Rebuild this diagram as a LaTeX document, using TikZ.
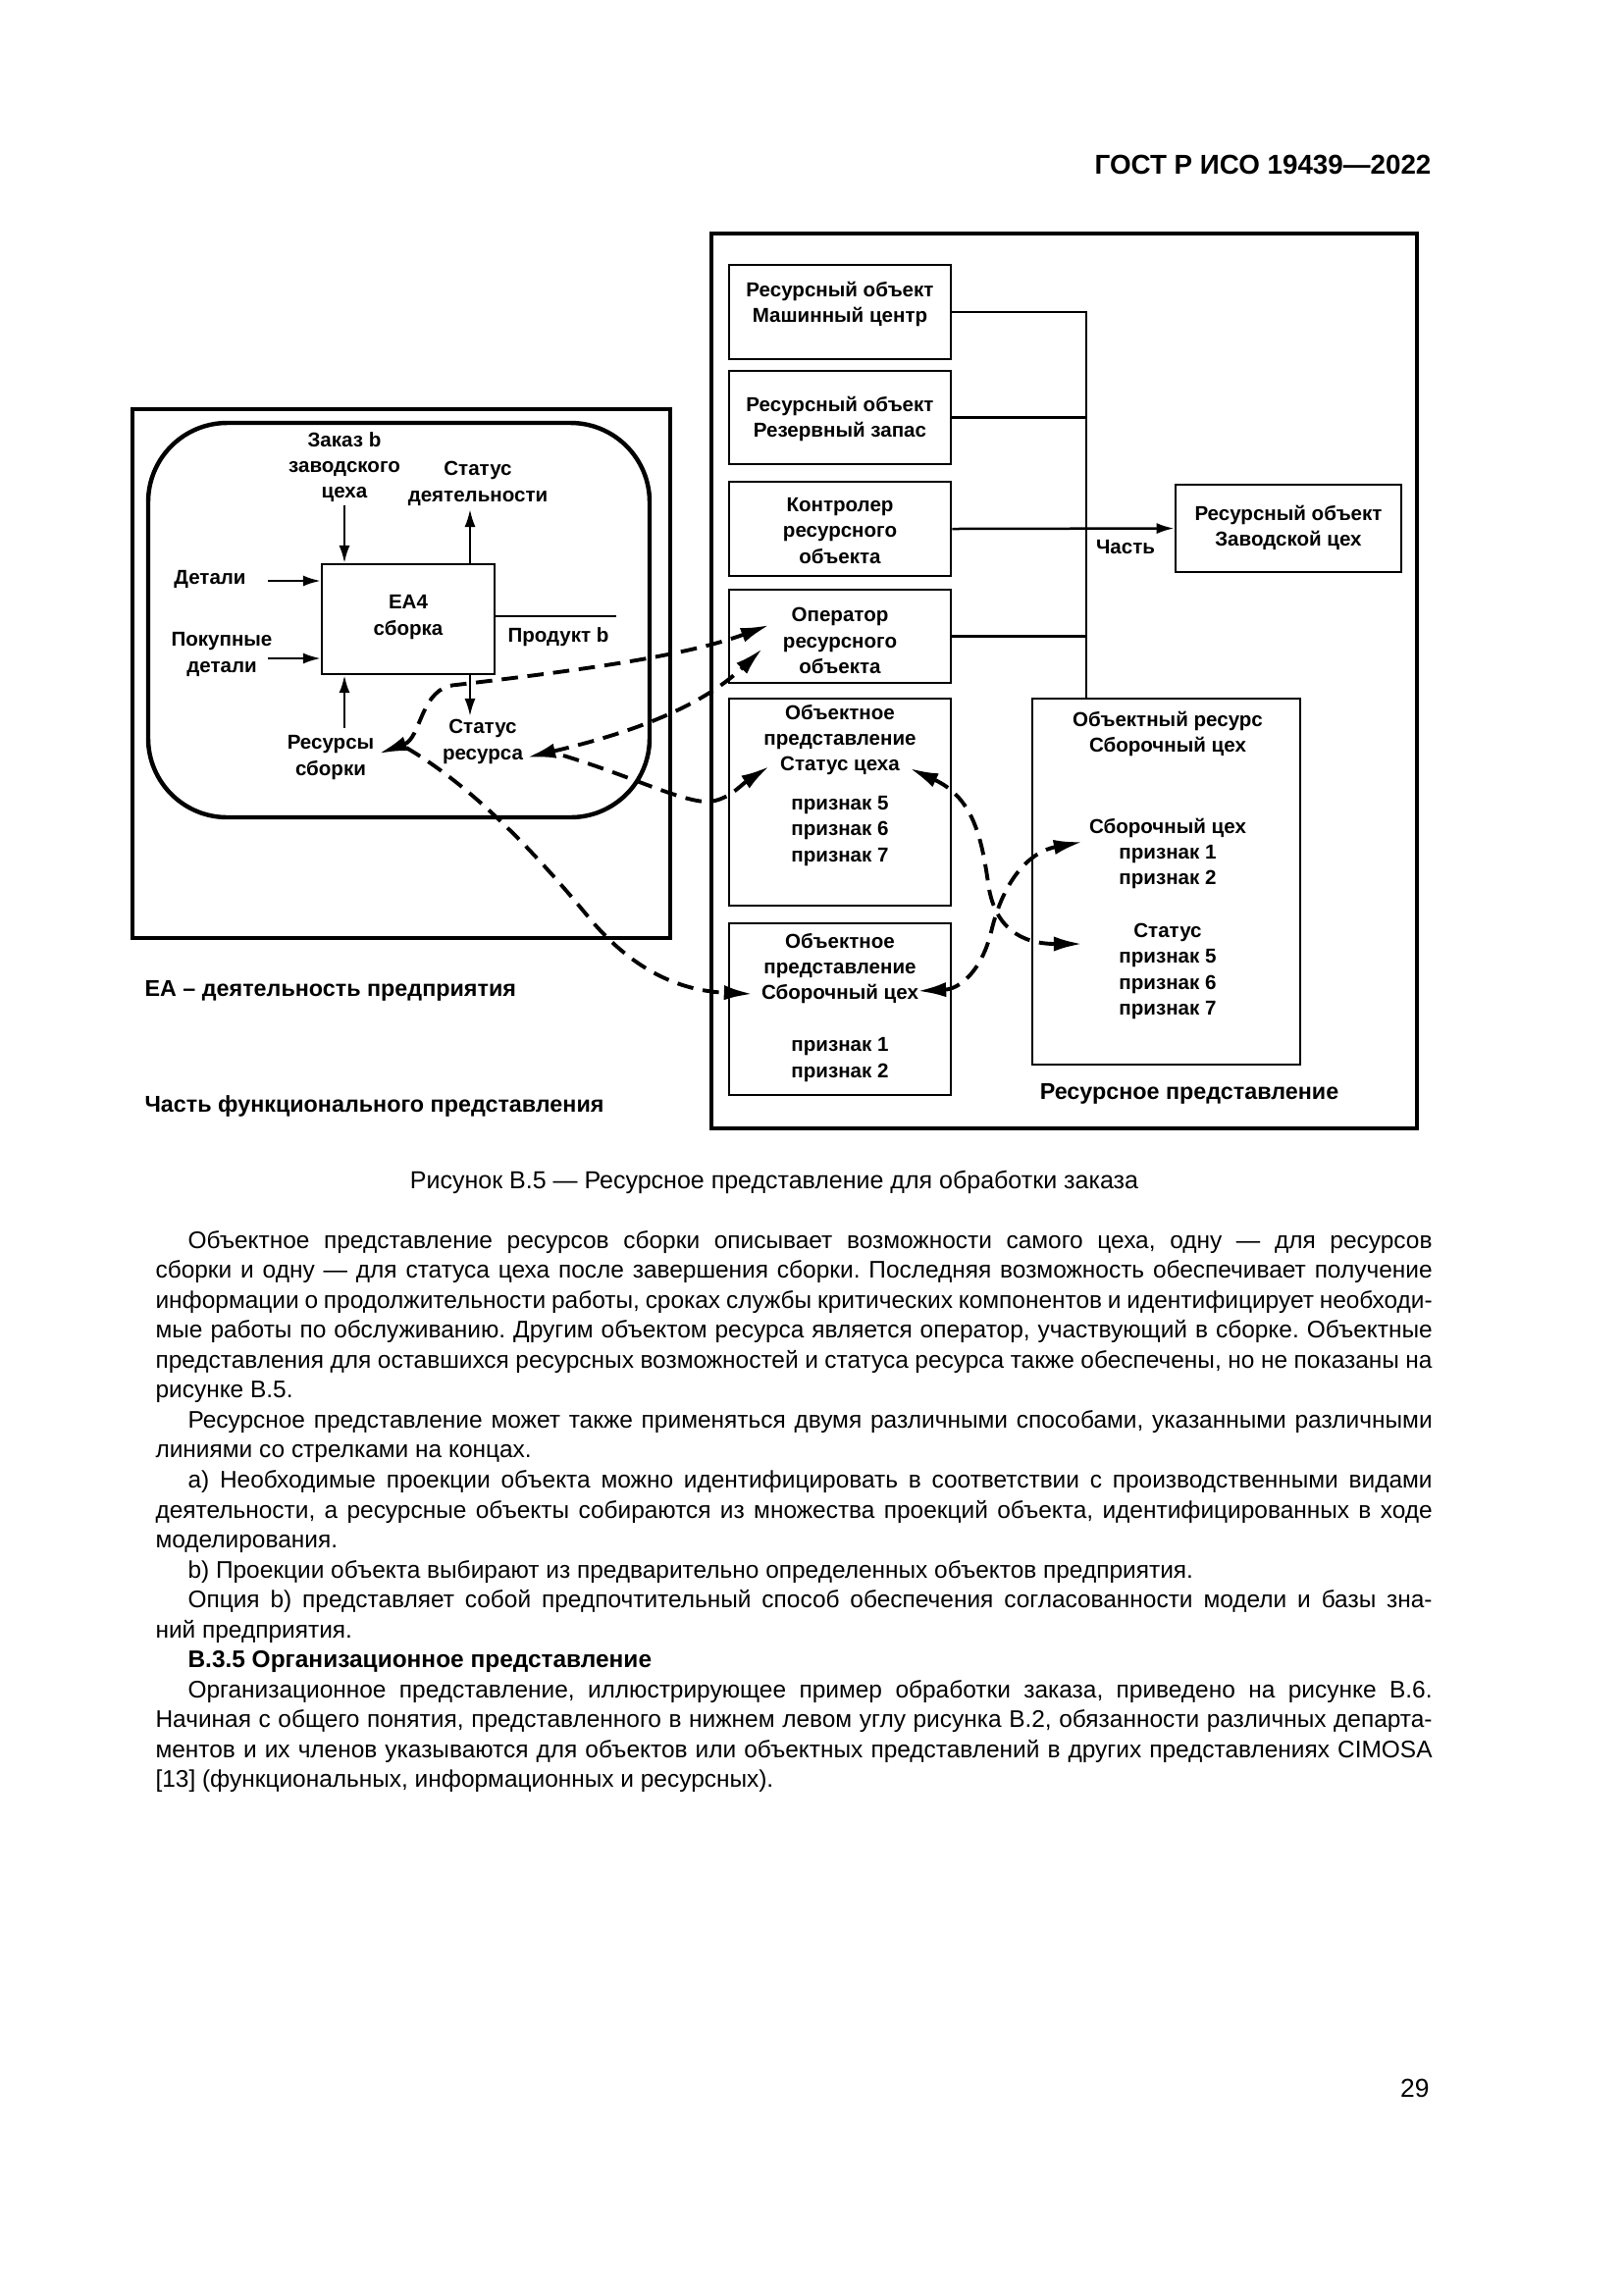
\documentclass[tikz,border=0pt]{standalone}
\usepackage{fontspec}
\setmainfont{Liberation Sans}
\usetikzlibrary{arrows.meta}
\frenchspacing
\tikzset{
  stip/.tip={Latex[length=6.5pt,width=4pt]},
  dtip/.tip={Latex[length=10.5pt,width=5.5pt]}
}
\newcommand{\jlA}[1]{\makebox[468.4pt][s]{#1}}
\newcommand{\jlB}[1]{\makebox[456.5pt][s]{#1}}
\begin{document}
\begin{tikzpicture}[x=0.36pt,y=-0.36pt,
  lbl/.style={font=\fontsize{7.4}{9.5}\selectfont\bfseries, align=center, inner sep=0pt},
  biglbl/.style={font=\fontsize{8.4}{10}\selectfont\bfseries, inner sep=0pt},
  smallbox/.style={draw, line width=1pt, inner sep=0pt},
  outerbox/.style={draw, line width=1.5pt, inner sep=0pt},
  conn/.style={line width=0.9pt},
  sarr/.style={conn, -stip},
  darr/.style={line width=1.4pt, dash pattern=on 6pt off 3.5pt},
  bodytxt/.style={font=\fontsize{8.8}{11}\selectfont\frenchspacing, inner sep=0pt, anchor=base west},
]
\fill[white] (0,0) rectangle (1654,2339);
\useasboundingbox (0,0) rectangle (1654,2339);

% header and page number
\node[font=\fontsize{10}{12}\selectfont\bfseries, anchor=base east, inner sep=0pt] (hdr) at (1459,177) {ГОСТ Р ИСО 19439—2022};
\node[font=\fontsize{9.5}{11}\selectfont, anchor=base east, inner sep=0pt] (pg) at (1457,2137) {29};

% ---------- left part (functional view)
\node[outerbox, minimum width=548*0.36pt, minimum height=539*0.36pt] (lframe) at (409,686.5) {};
\node[draw, line width=1.6pt, rounded corners=29pt, minimum width=511*0.36pt, minimum height=402*0.36pt] (rframe) at (406.5,632) {};
\node[draw, line width=0.8pt, minimum width=176*0.36pt, minimum height=112*0.36pt] (ea4) at (416,631) {};
\node[lbl] (ea4t) at (416,629) {EA4\\сборка};

\node[lbl] (zakaz) at (351,476) {Заказ b\\заводского\\цеха};
\node[lbl] (sdeyat) at (487,493) {Статус\\деятельности};
\node[lbl] (detali) at (214,590) {Детали};
\node[lbl] (pokup) at (226,667) {Покупные\\детали};
\node[lbl] (prod) at (569,649) {Продукт b};
\node[lbl] (resb) at (337,772) {Ресурсы\\сборки};
\node[lbl] (sres) at (492,756) {Статус\\ресурса};

\coordinate (zk) at (351,515);
\coordinate (sd) at (479,519);
\coordinate (dt) at (273,592);
\coordinate (pk) at (273,671);
\coordinate (rs) at (351,742);
\coordinate (sr) at (479,730);
\coordinate (pb) at (628,628);
\draw[sarr] (zk) -- (zk |- ea4.north);
\draw[sarr] (sd |- ea4.north) -- (sd);
\draw[sarr] (dt) -- (dt -| ea4.west);
\draw[sarr] (pk) -- (pk -| ea4.west);
\draw[sarr] (rs) -- (rs |- ea4.south);
\draw[sarr] (sr |- ea4.south) -- (sr);
\draw[conn] (pb -| ea4.east) -- (pb);

\node[biglbl, anchor=west] (ealbl) at (147,1010) {EA – деятельность предприятия};
\node[biglbl, anchor=west] (chf) at (147,1127) {Часть функционального представления};

% ---------- right part (resource view)
\node[outerbox, minimum width=719*0.36pt, minimum height=912*0.36pt] (rgframe) at (1084.5,694) {};
\node[smallbox, minimum width=226*0.36pt, minimum height=96*0.36pt] (b1) at (856,318) {};
\node[smallbox, minimum width=226*0.36pt, minimum height=95*0.36pt] (b2) at (856,425.5) {};
\node[smallbox, minimum width=226*0.36pt, minimum height=96*0.36pt] (b3) at (856,539) {};
\node[smallbox, minimum width=226*0.36pt, minimum height=95*0.36pt] (b4) at (856,648.5) {};
\node[smallbox, minimum width=226*0.36pt, minimum height=211*0.36pt] (b5) at (856,817.5) {};
\node[smallbox, minimum width=226*0.36pt, minimum height=175*0.36pt] (b6) at (856,1028.5) {};
\node[smallbox, minimum width=230*0.36pt, minimum height=89*0.36pt] (bz) at (1313,538.5) {};
\node[smallbox, minimum width=273*0.36pt, minimum height=373*0.36pt] (bs) at (1188.5,898.5) {};

\node[lbl] (t1) at (856,310) {Ресурсный объект\\Машинный центр};
\node[lbl] (t2) at (856,427) {Ресурсный объект\\Резервный запас};
\node[lbl] (t3) at (856,541) {Контролер\\ресурсного\\объекта};
\node[lbl] (t4) at (856,653) {Оператор\\ресурсного\\объекта};
\node[lbl] (t5a) at (856,754) {Объектное\\представление\\Статус цеха};
\node[lbl] (t5b) at (856,847) {признак 5\\признак 6\\признак 7};
\node[lbl] (t6a) at (856,987) {Объектное\\представление\\Сборочный цех};
\node[lbl] (t6b) at (856,1080) {признак 1\\признак 2};
\node[lbl] (tz) at (1313,538) {Ресурсный объект\\Заводской цех};
\node[lbl] (chast) at (1147,558) {Часть};
\node[lbl] (ts1) at (1190,748) {Объектный ресурс\\Сборочный цех};
\node[lbl] (ts2) at (1190,870) {Сборочный цех\\признак 1\\признак 2};
\node[lbl] (ts3) at (1190,990) {Статус\\признак 5\\признак 6\\признак 7};
\node[biglbl] (resrep) at (1212,1115) {Ресурсное представление};

\coordinate (jt) at (1107,318);
\coordinate (jb) at (jt |- bs.north);
\draw[conn] (b1.east) -- (jt) -- (jb);
\draw[conn] (b2.east) -- (b2.east -| jt);
\draw[conn] (b4.east) -- (b4.east -| jt);
\draw[sarr] (b3.east) -- (bz.west);

% ---------- dashed links
\coordinate (tRS) at (386,768);
\coordinate (bRS) at (414,762);
\coordinate (tOP1) at (784,637);
\coordinate (tOP2) at (777,661);
\coordinate (tSR) at (537,772);
\coordinate (bSR) at (574,770);
\coordinate (tSC) at (784,781);
\coordinate (tSB) at (767,1013);
\coordinate (tSCr) at (927,783);
\coordinate (tST) at (1103,962);
\coordinate (tSBr) at (935,1010);
\coordinate (tSBb) at (1103,858);

\draw[darr, dtip-dtip] (tRS) .. controls (430,752) and (428,700) .. (465,698) .. controls (600,682) and (700,668) .. (tOP1);
\draw[darr, -dtip] (bRS) .. controls (470,795) and (530,850) .. (600,935) .. controls (650,995) and (700,1010) .. (tSB);
\draw[darr, dtip-dtip] (tSR) .. controls (630,750) and (710,725) .. (tOP2);
\draw[darr, -dtip] (bSR) .. controls (640,790) and (690,815) .. (718,817) .. controls (740,818) and (755,800) .. (tSC);
\draw[darr, dtip-dtip] (tSCr) .. controls (990,812) and (1000,850) .. (1007,900) .. controls (1013,945) and (1040,962) .. (tST);
\draw[darr, dtip-dtip] (tSBr) .. controls (978,1008) and (1000,990) .. (1010,950) .. controls (1023,895) and (1050,868) .. (tSBb);

% ---------- caption and body text
\node[font=\fontsize{9}{11}\selectfont, anchor=base, inner sep=0pt] (cap) at (789,1211) {Рисунок В.5 — Ресурсное представление для обработки заказа};

\node[bodytxt] (l1) at (191,1272) {\jlB{Объектное представление ресурсов сборки описывает возможности самого цеха, одну — для ресурсов}};
\node[bodytxt] (l2) at (158,1302.6) {\jlA{сборки и одну — для статуса цеха после завершения сборки. Последняя возможность обеспечивает получение}};
\node[bodytxt] (l3) at (158,1333.1) {\jlA{информации о продолжительности работы, сроках службы критических компонентов и идентифицирует необходи-}};
\node[bodytxt] (l4) at (158,1363.7) {\jlA{мые работы по обслуживанию. Другим объектом ресурса является оператор, участвующий в сборке. Объектные}};
\node[bodytxt] (l5) at (158,1394.2) {\jlA{представления для оставшихся ресурсных возможностей и статуса ресурса также обеспечены, но не показаны на}};
\node[bodytxt] (l6) at (158,1424.8) {рисунке В.5.};
\node[bodytxt] (l7) at (191,1455.3) {\jlB{Ресурсное представление может также применяться двумя различными способами, указанными различными}};
\node[bodytxt] (l8) at (158,1485.9) {линиями со стрелками на концах.};
\node[bodytxt] (l9) at (191,1516.4) {\jlB{а) Необходимые проекции объекта можно идентифицировать в соответствии с производственными видами}};
\node[bodytxt] (l10) at (158,1547.0) {\jlA{деятельности, а ресурсные объекты собираются из множества проекций объекта, идентифицированных в ходе}};
\node[bodytxt] (l11) at (158,1577.5) {моделирования.};
\node[bodytxt] (l12) at (191,1608.1) {b) Проекции объекта выбирают из предварительно определенных объектов предприятия.};
\node[bodytxt] (l13) at (191,1638.6) {\jlB{Опция b) представляет собой предпочтительный способ обеспечения согласованности модели и базы зна-}};
\node[bodytxt] (l14) at (158,1669.2) {ний предприятия.};
\node[bodytxt, font=\fontsize{8.8}{11}\selectfont\bfseries] (l15) at (191,1699.7) {В.3.5 Организационное представление};
\node[bodytxt] (l16) at (191,1730.3) {\jlB{Организационное представление, иллюстрирующее пример обработки заказа, приведено на рисунке В.6.}};
\node[bodytxt] (l17) at (158,1760.8) {\jlA{Начиная с общего понятия, представленного в нижнем левом углу рисунка В.2, обязанности различных департа-}};
\node[bodytxt] (l18) at (158,1791.4) {\jlA{ментов и их членов указываются для объектов или объектных представлений в других представлениях CIMOSA}};
\node[bodytxt] (l19) at (158,1821.9) {[13] (функциональных, информационных и ресурсных).};
\end{tikzpicture}
\end{document}
